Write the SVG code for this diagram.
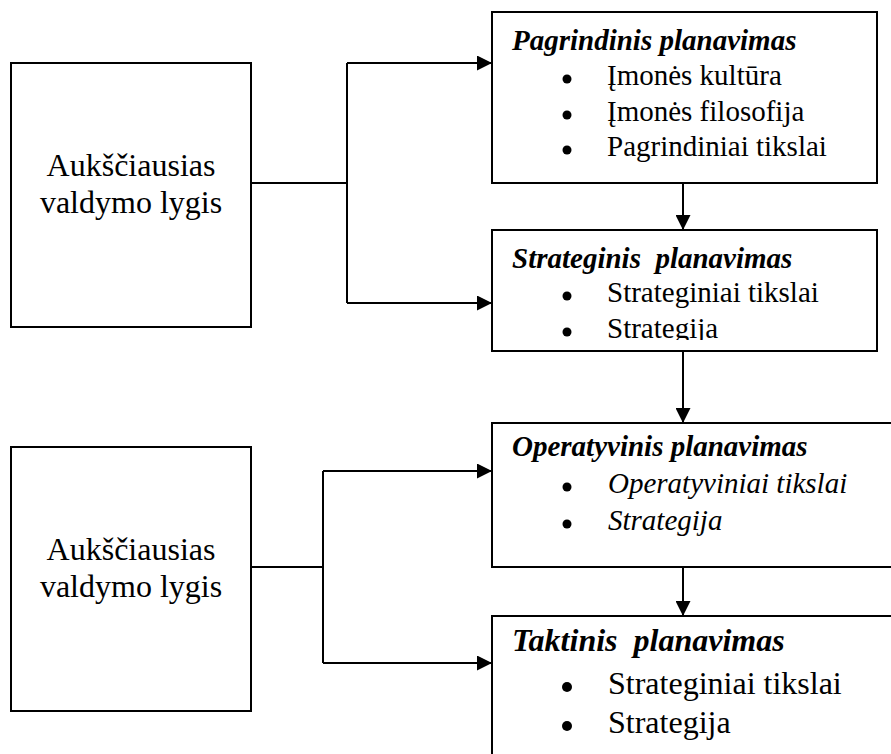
<svg xmlns="http://www.w3.org/2000/svg" width="891" height="754" viewBox="0 0 891 754">
  <style>
    .box { fill: #ffffff; stroke: #000000; stroke-width: 2; }
    .conn { fill: none; stroke: #000000; stroke-width: 2; }
    text { fill: #000000; }
    .lbl { font-size: 32px; text-anchor: middle; }
    .title { font-size: 29px; font-weight: bold; font-style: italic; }
    .item { font-size: 29px; }
    .big { font-size: 32px; }
    .bul { fill: #000000; }
  </style>
  <defs>
    <marker id="arr" markerUnits="userSpaceOnUse" markerWidth="15" markerHeight="15" refX="15" refY="7.5" orient="auto">
      <path d="M0,0 L15,7.5 L0,15 Z" fill="#000000"/>
    </marker>
    <clipPath id="clipStrat">
      <rect x="492" y="230" width="386" height="110"/>
    </clipPath>
  </defs>
  <rect x="0" y="0" width="891" height="754" fill="#ffffff"/>

  <g id="connectors">
    <path class="conn" d="M251,183 H347"/>
    <path class="conn" d="M347,63 V303"/>
    <path class="conn" d="M347,63 H492" marker-end="url(#arr)"/>
    <path class="conn" d="M347,303 H492" marker-end="url(#arr)"/>
    <path class="conn" d="M683,183 V230" marker-end="url(#arr)"/>
    <path class="conn" d="M683,352 V423" marker-end="url(#arr)"/>
    <path class="conn" d="M683,567 V616" marker-end="url(#arr)"/>
    <path class="conn" d="M251,567 H323"/>
    <path class="conn" d="M323,471 V663"/>
    <path class="conn" d="M323,471 H492" marker-end="url(#arr)"/>
    <path class="conn" d="M323,663 H492" marker-end="url(#arr)"/>
  </g>

  <g font-family="Liberation Serif, Tinos, Times New Roman, serif">
  <g id="top-level-1">
    <rect class="box" x="11" y="63" width="240" height="264"/>
    <text class="lbl" x="131" y="176">Aukščiausias</text>
    <text class="lbl" x="131" y="213">valdymo lygis</text>
  </g>

  <g id="pagrindinis">
    <rect class="box" x="492" y="12" width="385" height="171"/>
    <text class="title" x="512" y="50">Pagrindinis planavimas</text>
    <circle class="bul" cx="567" cy="79" r="4.5"/>
    <text class="item" x="607" y="85">Įmonės kultūra</text>
    <circle class="bul" cx="567" cy="115" r="4.5"/>
    <text class="item" x="607" y="121">Įmonės filosofija</text>
    <circle class="bul" cx="567" cy="150" r="4.5"/>
    <text class="item" x="607" y="156">Pagrindiniai tikslai</text>
  </g>

  <g id="strateginis">
    <rect class="box" x="492" y="230" width="385" height="121"/>
    <text class="title" x="512" y="268" xml:space="preserve">Strateginis  planavimas</text>
    <circle class="bul" cx="567" cy="296" r="4.5"/>
    <text class="item" x="607" y="302">Strateginiai tikslai</text>
    <g clip-path="url(#clipStrat)">
      <circle class="bul" cx="567" cy="332" r="4.5"/>
      <text class="item" x="607" y="338">Strategija</text>
    </g>
  </g>

  <g id="top-level-2">
    <rect class="box" x="11" y="447" width="240" height="264"/>
    <text class="lbl" x="131" y="560">Aukščiausias</text>
    <text class="lbl" x="131" y="597">valdymo lygis</text>
  </g>

  <g id="operatyvinis">
    <rect class="box" x="492" y="423" width="410" height="144"/>
    <text class="title" x="512" y="456">Operatyvinis planavimas</text>
    <circle class="bul" cx="567" cy="487" r="4.5"/>
    <text class="item" x="608" y="493" font-style="italic">Operatyviniai tikslai</text>
    <circle class="bul" cx="567" cy="524" r="4.5"/>
    <text class="item" x="608" y="530" font-style="italic">Strategija</text>
  </g>

  <g id="taktinis">
    <rect class="box" x="492" y="616" width="410" height="160"/>
    <text class="title big" x="512" y="651" xml:space="preserve">Taktinis  planavimas</text>
    <circle class="bul" cx="567" cy="687" r="5"/>
    <text class="big" x="608" y="694">Strateginiai tikslai</text>
    <circle class="bul" cx="567" cy="726" r="5"/>
    <text class="big" x="608" y="733">Strategija</text>
  </g>
  </g>
</svg>
